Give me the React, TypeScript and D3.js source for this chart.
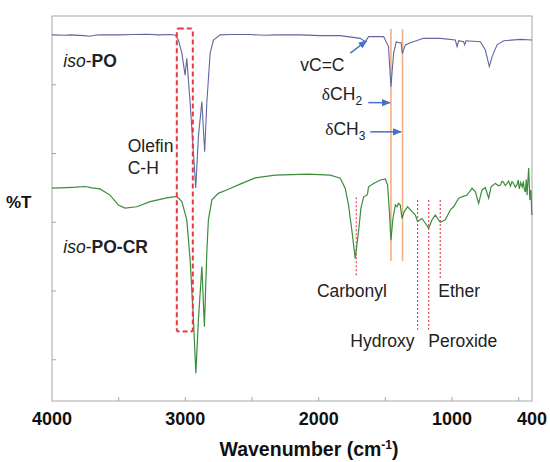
import React from "react"
import * as d3 from "d3"

// spectra: [wavenumber cm-1, %T (arbitrary offset units)]
const isoPO: [number, number][] = [
  [4000, 94.5], [3900, 94.4], [3865, 94.5], [3760, 94.3], [3715, 94.1], [3680, 94.4], [3640, 94.5],
  [3490, 94.5], [3400, 94.6], [3289, 94.7], [3200, 94.5], [3114, 94.6], [3077, 94.5], [3052, 93.0],
  [3026, 89.2], [3002, 82.8], [2989, 87.7], [2964, 74.7], [2922, 50.0], [2902, 64.9], [2876, 75.1],
  [2855, 60.5], [2839, 74.7], [2814, 89.2], [2789, 93.0], [2739, 94.5], [2664, 94.6], [2514, 94.6],
  [2400, 94.4], [2326, 94.5], [2138, 94.5], [1988, 94.3], [1838, 94.3], [1688, 93.5], [1650, 92.5],
  [1626, 94.0], [1513, 94.0], [1476, 91.1], [1458, 79.4], [1438, 89.2], [1418, 92.5], [1401, 92.2],
  [1382, 92.2], [1373, 89.1], [1350, 91.6], [1313, 92.2], [1213, 93.5], [1088, 93.5], [975, 93.0],
  [962, 91.1], [950, 92.8], [913, 92.5], [905, 91.6], [895, 92.8], [787, 92.5], [750, 90.1],
  [720, 85.3], [699, 88.2], [662, 91.6], [612, 92.8], [487, 93.2], [400, 93.0],
]

const isoPOCR: [number, number][] = [
  [4000, 49.9], [3890, 50.1], [3820, 50.2], [3752, 50.4], [3700, 50.0], [3640, 49.7], [3565, 47.9],
  [3502, 45.0], [3452, 44.1], [3364, 44.5], [3264, 46.0], [3139, 47.1], [3064, 47.5], [3026, 46.0],
  [2989, 40.7], [2964, 29.0], [2939, 11.6], [2921, -3.9], [2902, 11.6], [2876, 27.1], [2857, 9.6],
  [2839, 31.1], [2827, 40.7], [2801, 46.5], [2752, 48.4], [2677, 49.6], [2589, 51.1], [2476, 52.9],
  [2326, 53.7], [2078, 54.0], [1913, 53.7], [1838, 52.8], [1801, 49.9], [1776, 45.0], [1750, 37.3],
  [1726, 29.5], [1701, 37.3], [1683, 44.1], [1663, 47.4], [1638, 47.9], [1633, 48.4], [1626, 50.3],
  [1588, 51.3], [1538, 52.3], [1500, 52.6], [1483, 50.8], [1468, 42.1], [1458, 34.8], [1443, 41.1],
  [1425, 45.0], [1413, 44.5], [1401, 45.5], [1388, 45.0], [1375, 41.1], [1358, 43.1], [1333, 44.5],
  [1300, 43.1], [1275, 42.1], [1258, 40.2], [1225, 41.1], [1200, 39.7], [1175, 38.2], [1150, 40.7],
  [1125, 42.1], [1108, 41.1], [1088, 40.0], [1050, 40.7], [1012, 43.6], [988, 44.5], [950, 47.0],
  [925, 47.4], [887, 47.9], [850, 49.9], [825, 48.9], [800, 45.5], [775, 49.4], [750, 50.1],
  [725, 47.0], [707, 50.3], [675, 51.3], [650, 50.6], [637, 50.8], [625, 51.9], [615, 51.7],
  [600, 50.7], [587, 51.3], [575, 52.0], [562, 50.5], [550, 51.8], [540, 51.4], [525, 50.2],
  [512, 51.0], [503, 52.3], [495, 49.7], [485, 51.5], [474, 50.3], [465, 51.9], [458, 49.6],
  [450, 48.8], [443, 52.4], [437, 47.9], [425, 55.8], [416, 46.5], [408, 49.4], [401, 42.1],
]

const xTickMarks = [3500, 3000, 2500, 2000, 1500, 1000, 500]
const xTickLabels = [4000, 3000, 2000, 1000, 400]
const yTickMarks = [0, 20, 40, 60, 80]

// solid orange guide lines (δCH2, δCH3)
const guideWn = [1458, 1371]
// dotted red marker lines: wavenumber, top, bottom
const markerWn = [1718, 1258, 1175, 1088]
const markerTop = [47.3, 46.5, 46.5, 46.5]
const markerBottom = [24.1, 8.7, 8.7, 23.8]

const labels = [
  { text: "Carbonyl", wn: 2013, t: 18.3 },
  { text: "Ether", wn: 1103, t: 18.3 },
  { text: "Hydroxy", wn: 1763, t: 3.8 },
  { text: "Peroxide", wn: 1178, t: 3.8 },
  { text: "Olefin", wn: 3432, t: 60.5 },
  { text: "C-H", wn: 3432, t: 54.0 },
  { text: "vC=C", wn: 2138, t: 84.1 },
]

// arrows: from [wn, t] to [wn, t]
const arrows: [number, number, number, number][] = [
  [1763, 89.2, 1640, 92.8],
  [1628, 74.8, 1466, 74.8],
  [1613, 66.3, 1382, 66.3],
]

const W = 550
const H = 462
const left = 52
const right = 532
const top = 16
const bottom = 401
const font = "'Liberation Sans', Arial, sans-serif"

export default function App() {
  const x = d3.scaleLinear().domain([4000, 400]).range([left, right])
  const y = d3.scaleLinear().domain([-12, 100]).range([bottom, top])

  const line = d3
    .line<[number, number]>()
    .x(d => x(d[0]))
    .y(d => y(d[1]))

  return (
    <svg width={W} height={H} style={{ position: "absolute", left: 0, top: 0, background: "#fff" }}
      fontFamily={font}>
      <defs>
        <marker id="arr" viewBox="0 0 10 10" refX="9" refY="5" markerWidth="6" markerHeight="6"
          orient="auto">
          <path d="M0,1 L10,5 L0,9 z" fill="#4472c4" />
        </marker>
      </defs>

      <rect x={left} y={top} width={right - left} height={bottom - top} fill="none"
        stroke="#a6a6a6" strokeWidth={1} />
      {xTickMarks.map(v => (
        <line key={v} x1={x(v)} x2={x(v)} y1={bottom} y2={bottom - 4} stroke="#a6a6a6" />
      ))}
      {yTickMarks.map(v => (
        <line key={v} x1={left} x2={left + 4} y1={y(v)} y2={y(v)} stroke="#a6a6a6" />
      ))}
      {xTickLabels.map(v => (
        <text key={v} x={x(v)} y={425} textAnchor="middle" fontSize={18} fontWeight="bold"
          fill="#111">{v}</text>
      ))}
      <text x={309} y={456} textAnchor="middle" fontSize={19.5} fontWeight="bold" fill="#111">
        Wavenumber (cm<tspan baselineShift="super" fontSize={12}>-1</tspan>)
      </text>
      <text x={6} y={208} fontSize={17} fontWeight="bold" fill="#111">%T</text>

      {guideWn.map(v => (
        <line key={v} x1={x(v)} x2={x(v)} y1={y(96.2)} y2={y(28.7)} stroke="#f6ad84"
          strokeWidth={1.6} />
      ))}
      {markerWn.map((v, i) => (
        <line key={v} x1={x(v)} x2={x(v)} y1={y(markerTop[i])} y2={y(markerBottom[i])}
          stroke="#e8484f" strokeWidth={1.2} strokeDasharray="2,2" />
      ))}

      <path d={line(isoPO) ?? ""} fill="none" stroke="#6266a0" strokeWidth={1.1} />
      <path d={line(isoPOCR) ?? ""} fill="none" stroke="#3b8c3b" strokeWidth={1.2} />

      <rect x={x(3064)} y={y(96.4)} width={x(2944) - x(3064)} height={y(8.2) - y(96.4)} rx={2}
        fill="none" stroke="#e8383d" strokeWidth={2} strokeDasharray="5,3" />

      {arrows.map((a, i) => (
        <line key={i} x1={x(a[0])} y1={y(a[1])} x2={x(a[2])} y2={y(a[3])} stroke="#4472c4"
          strokeWidth={1.5} markerEnd="url(#arr)" />
      ))}

      <g fontSize={17.5} fill="#222">
        {labels.map(l => (
          <text key={l.text} x={x(l.wn)} y={y(l.t)}>{l.text}</text>
        ))}
        <text x={x(1976)} y={y(75.6)}>
          <tspan fontFamily="'Liberation Serif', serif">δ</tspan>CH<tspan fontSize={12} dy={5}>2</tspan>
        </text>
        <text x={x(1951)} y={y(65.4)}>
          <tspan fontFamily="'Liberation Serif', serif">δ</tspan>CH<tspan fontSize={12} dy={5}>3</tspan>
        </text>
        <text x={x(3915)} y={y(85.2)}>
          <tspan fontStyle="italic">iso</tspan>-<tspan fontWeight="bold">PO</tspan>
        </text>
        <text x={x(3915)} y={y(31.0)}>
          <tspan fontStyle="italic">iso</tspan>-<tspan fontWeight="bold">PO-CR</tspan>
        </text>
      </g>
    </svg>
  )
}
